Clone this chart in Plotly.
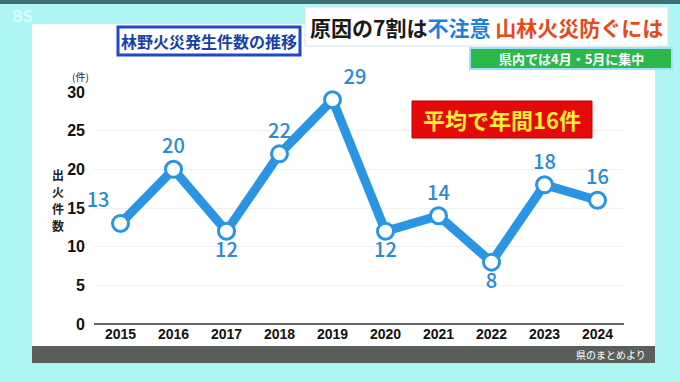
import plotly.graph_objects as go

years = [2015, 2016, 2017, 2018, 2019, 2020, 2021, 2022, 2023, 2024]
fires = [13, 20, 12, 22, 29, 12, 14, 8, 18, 16]
y_ticks = [0, 5, 10, 15, 20, 25, 30]
# label placement above/below point
label_pos = ["top left", "top center", "bottom center", "top center", "top right",
             "bottom center", "top center", "bottom center", "top center", "top center"]

W, H = 680, 382
FONT = "Noto Sans CJK JP"
BLUE = "#2a95e3"

fig = go.Figure()
fig.add_trace(go.Scatter(
    x=years, y=fires, mode="lines+markers+text",
    line=dict(color=BLUE, width=9),
    marker=dict(size=16, color="white", line=dict(color=BLUE, width=3)),
    text=[str(v) for v in fires], textposition=label_pos,
    textfont=dict(family=FONT, size=20, color="#2a8ad6", weight=500),
    cliponaxis=False, showlegend=False, hoverinfo="skip"))


def px_x(v):
    return v / W


def px_y(v):
    return 1 - v / H


shapes = [
    dict(type="rect", xref="paper", yref="paper", x0=0, x1=1, y0=px_y(4), y1=1,
         fillcolor="#3f6f72", line_width=0, layer="below"),
    dict(type="rect", xref="paper", yref="paper", x0=px_x(32), x1=px_x(655),
         y0=px_y(362), y1=px_y(24), fillcolor="white", line_width=0, layer="below"),
    dict(type="rect", xref="paper", yref="paper", x0=px_x(32), x1=px_x(655),
         y0=px_y(363), y1=px_y(346), fillcolor="#5a5f5c", line_width=0, layer="below"),
    dict(type="rect", xref="paper", yref="paper", x0=px_x(305), x1=px_x(668),
         y0=px_y(46), y1=px_y(7), fillcolor="white", line=dict(color="#cfe8e8", width=1)),
    dict(type="rect", xref="paper", yref="paper", x0=px_x(118), x1=px_x(300),
         y0=px_y(55), y1=px_y(27), fillcolor="white", line=dict(color="#1f49c8", width=3)),
    dict(type="rect", xref="paper", yref="paper", x0=px_x(470), x1=px_x(672),
         y0=px_y(69), y1=px_y(48), fillcolor="#2db84a", line=dict(color="#9fe0ff", width=2)),
    dict(type="rect", xref="paper", yref="paper", x0=px_x(412), x1=px_x(592),
         y0=px_y(138), y1=px_y(101), fillcolor="#e40a0a", line=dict(color="#b80000", width=1)),
]


def ann(x, y, text, size, color, xanchor="center"):
    return dict(x=px_x(x), y=px_y(y), xref="paper", yref="paper", showarrow=False,
                xanchor=xanchor, yanchor="middle", text=text,
                font=dict(family=FONT, size=size, color=color))


annotations = [
    ann(209, 41, "<b>林野火災発生件数の推移</b>", 16, "#1a3fa8"),
    ann(486, 27, "<b>原因の7割は<span style='color:#1e7fe0'>不注意</span> "
                 "<span style='color:#e8481a'>山林火災防ぐには</span></b>", 21, "#1a1a1a"),
    ann(571, 58, "<b>県内では4月・5月に集中</b>", 13, "white"),
    ann(502, 119, "<b>平均で年間16件</b>", 22, "#ffee33"),
    ann(80, 76, "(件)", 10, "#222"),
    ann(648, 354, "県のまとめより", 10, "white", xanchor="right"),
    ann(22, 15, "<b>BS</b>", 16, "rgba(255,255,255,0.6)"),
]
# vertical axis title, one character per line
for i, ch in enumerate("出火件数"):
    annotations.append(ann(58, 174 + 17 * i, "<b>%s</b>" % ch, 12, "#222"))

fig.update_layout(
    width=W, height=H, margin=dict(l=0, r=0, t=0, b=0),
    paper_bgcolor="#adf6f4", plot_bgcolor="white",
    shapes=shapes, annotations=annotations,
    xaxis=dict(domain=[px_x(94), px_x(624)], range=[2014.5, 2024.5],
               tickmode="array", tickvals=years, ticktext=["<b>%d</b>" % y for y in years],
               showgrid=False, zeroline=False, ticks="", automargin=False,
               tickfont=dict(family="Liberation Sans Narrow, Liberation Sans", size=14, color="#111"),
               showline=False),
    yaxis=dict(domain=[1 - 324 / H, 1 - 92 / H], range=[0, 30],
               tickmode="array", tickvals=y_ticks, ticktext=[str(v) for v in y_ticks],
               showgrid=True, gridcolor="#f0f0f0", gridwidth=1,
               zeroline=True, zerolinecolor="#666", zerolinewidth=2,
               tickfont=dict(family="Liberation Sans", size=16, color="#111", weight=600),
               ticks="", ticklabelstandoff=8, automargin=False),
    font=dict(family=FONT),
)

fig.write_html("out.html", config={"displayModeBar": False},
               post_script="document.body.style.margin='0';")
